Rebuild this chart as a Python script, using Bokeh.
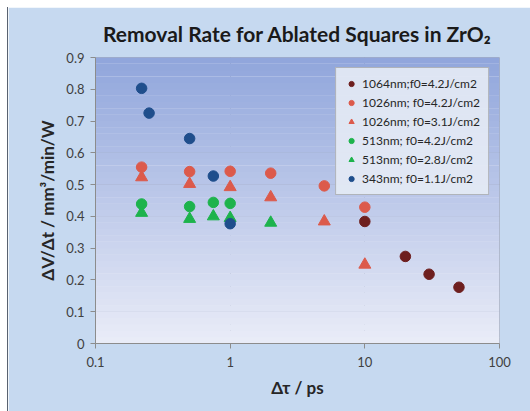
from bokeh.plotting import figure
from bokeh.models import FixedTicker, Legend, LegendItem, BoxAnnotation
from bokeh.embed import file_html
from bokeh.resources import INLINE

# ---- data ----
x_1064 = [10, 20, 30, 50]
y_1064 = [0.384, 0.274, 0.218, 0.177]
x_1026a = [0.22, 0.5, 1, 2, 5, 10]
y_1026a = [0.555, 0.541, 0.542, 0.536, 0.496, 0.429]
x_1026b = [0.22, 0.5, 1, 2, 5, 10]
y_1026b = [0.523, 0.502, 0.492, 0.46, 0.384, 0.248]
x_513a = [0.22, 0.5, 0.75, 1]
y_513a = [0.439, 0.431, 0.444, 0.441]
x_513b = [0.22, 0.5, 0.75, 1, 2]
y_513b = [0.411, 0.392, 0.40, 0.395, 0.38]
x_343 = [0.22, 0.25, 0.5, 0.75, 1]
y_343 = [0.803, 0.725, 0.645, 0.527, 0.377]

labels = ["1064nm;f0=4.2J/cm2", "1026nm; f0=4.2J/cm2", "1026nm; f0=3.1J/cm2",
          "513nm; f0=4.2J/cm2", "513nm; f0=2.8J/cm2", "343nm; f0=1.1J/cm2"]
x_ticks = [0.1, 1, 10, 100]
x_tick_labels = ["0.1", "1", "10", "100"]
y_ticks = [0, 0.1, 0.2, 0.3, 0.4, 0.5, 0.6, 0.7, 0.8, 0.9]

FONT = "Lato"
p = figure(width=523, height=404, x_axis_type="log", x_range=(0.1, 100), y_range=(0, 0.9),
           output_backend="svg", toolbar_location=None,
           min_border_left=87, min_border_right=32, min_border_top=50, min_border_bottom=68,
           title="Removal Rate for Ablated Squares in ZrO₂")
p.margin = (7, 0, 0, 7)
p.styles = {"border-left": "1px solid #5a6270"}
p.border_fill_color = "#c6d9f0"
p.background_fill_color = "#e8ecf7"
p.outline_line_color = "#a6afc2"

p.title.align = "center"
p.title.text_font = FONT
p.title.text_font_size = "21px"
p.title.text_font_style = "bold"
p.title.text_color = "#1a1a1a"
p.title.standoff = 23

# vertical gradient background of the plot area (styling bands)
top_c = (0x90, 0xa6, 0xdc)
bot_c = (0xea, 0xed, 0xf8)
n = 45
for i in range(n):
    t = (i + 0.5) / n
    c = tuple(int(bot_c[k] + (top_c[k] - bot_c[k]) * t) for k in range(3))
    p.add_layout(BoxAnnotation(bottom=0.9 * i / n, top=0.9 * (i + 1) / n + 0.0005,
                               fill_color="#%02x%02x%02x" % c, fill_alpha=1, line_alpha=0,
                               level="underlay"))

p.xaxis.ticker = FixedTicker(ticks=x_ticks, minor_ticks=[])
p.xaxis.major_label_overrides = {t: l for t, l in zip(x_ticks, x_tick_labels)}
p.yaxis.ticker = FixedTicker(ticks=y_ticks, minor_ticks=[])
p.yaxis.major_label_overrides = {0: "0"}
for ax in (p.xaxis, p.yaxis):
    ax.axis_line_color = "#8c8c8c"
    ax.major_tick_line_color = "#8c8c8c"
    ax.major_tick_out = 5
    ax.major_tick_in = 0
    ax.minor_tick_line_color = None
    ax.major_label_text_font = FONT
    ax.major_label_text_font_size = "13px"
    ax.major_label_text_color = "#404040"
    ax.axis_label_text_font = FONT
    ax.axis_label_text_font_size = "17px"
    ax.axis_label_text_font_style = "bold"
    ax.axis_label_text_color = "#262626"
p.xaxis.axis_label = "Δτ / ps"
p.yaxis.axis_label = "ΔV/Δt / mm³/min/W"
p.xaxis.major_label_standoff = 8
p.yaxis.major_label_standoff = 6
p.xaxis.axis_label_standoff = 7
p.yaxis.axis_label_standoff = 5
p.grid.grid_line_color = "#8f98ac"
p.grid.grid_line_alpha = 0.8
p.grid.level = "underlay"

rs = []
rs.append(p.scatter(x_1064, y_1064, marker="circle", size=10.5, color="#6e1f1f"))
rs.append(p.scatter(x_1026a, y_1026a, marker="circle", size=10.5, color="#dc5a4b"))
rs.append(p.scatter(x_1026b, y_1026b, marker="triangle", size=12, color="#dc5a4b"))
rs.append(p.scatter(x_513a, y_513a, marker="circle", size=10.5, color="#1db34c"))
rs.append(p.scatter(x_513b, y_513b, marker="triangle", size=12, color="#1db34c"))
rs.append(p.scatter(x_343, y_343, marker="circle", size=10.5, color="#1f4e8c"))

legend = Legend(items=[LegendItem(label=l, renderers=[r]) for l, r in zip(labels, rs)],
                location="top_right")
legend.background_fill_color = "#e6ebf5"
legend.background_fill_alpha = 0.9
legend.border_line_color = "#7f7f7f"
legend.label_text_font = FONT
legend.label_text_font_size = "12px"
legend.label_text_color = "#262626"
legend.glyph_width = 14
legend.glyph_height = 13
legend.label_standoff = 4
legend.spacing = 4
legend.padding = 8
legend.margin = 10
legend.label_height = 14
p.add_layout(legend, "center")

open("out.html", "w").write(file_html(p, INLINE))
